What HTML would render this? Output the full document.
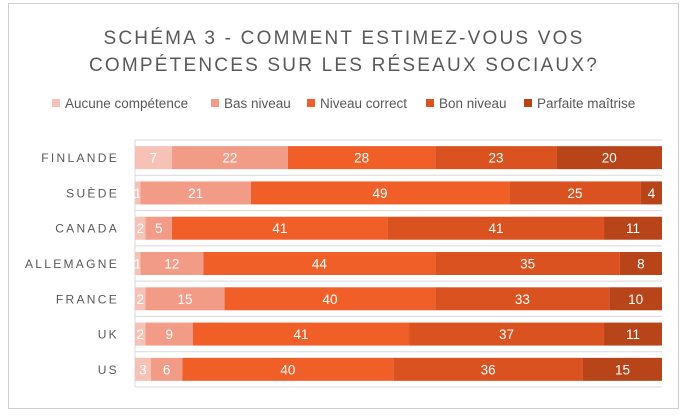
<!DOCTYPE html>
<html><head><meta charset="utf-8"><style>
body{margin:0;background:#fff;}
svg{display:block;font-family:"Liberation Sans",sans-serif;}
</style></head><body>
<svg id="c" width="688" height="419" viewBox="0 0 688 419">
<rect x="8.5" y="3.5" width="670" height="405" fill="#fff" stroke="#d0d0d0"/>
<text x="344" y="44" text-anchor="middle" font-size="19" fill="#595959" letter-spacing="2.2">SCHÉMA 3 - COMMENT ESTIMEZ-VOUS VOS</text>
<text x="344" y="71" text-anchor="middle" font-size="19" fill="#595959" letter-spacing="2.2">COMPÉTENCES SUR LES RÉSEAUX SOCIAUX?</text>
<g id="legend"></g>
<g id="grid"></g>
<g id="bars"></g>
<g id="labels"></g>
</svg>
<script>
const categories=["FINLANDE","SUÈDE","CANADA","ALLEMAGNE","FRANCE","UK","US"];
const seriesNames=["Aucune compétence","Bas niveau","Niveau correct","Bon niveau","Parfaite maîtrise"];
const aucune=[7,1,2,1,2,2,3];
const bas=[22,21,5,12,15,9,6];
const correct=[28,49,41,44,40,41,40];
const bon=[23,25,41,35,33,37,36];
const parfaite=[20,4,11,8,10,11,15];
const series=[aucune,bas,correct,bon,parfaite];
const colors=["#f7c2b6","#f29c88","#f05f28","#d9521f","#b8441a"];
const NS="http://www.w3.org/2000/svg";
const L=135,R=662,T=140,B=387;
const x=v=>L+(R-L)*v/100;
const band=(B-T)/categories.length;
const yc=i=>T+band*(i+0.5);
function mk(t,a,p){const e=document.createElementNS(NS,t);for(const k in a)e.setAttribute(k,a[k]);p.appendChild(e);return e;}
const grid=document.getElementById('grid'),bars=document.getElementById('bars'),labels=document.getElementById('labels'),legend=document.getElementById('legend');
for(let i=0;i<=categories.length;i++){
  const g=mk('line',{x1:L,x2:R,y1:T+band*i,y2:T+band*i,stroke:'#d9d9d9'},grid);
  
  
}
const vl=mk('line',{x1:L,x2:L,y1:T,y2:B,stroke:'#d9d9d9'},grid);


categories.forEach((c,i)=>{
  const t=mk('text',{x:119,y:yc(i)+4.5,'text-anchor':'end','font-size':12,fill:'#595959','letter-spacing':'2.3'},labels);
  t.textContent=c;
  
  
  let cum=0;
  series.forEach((s,j)=>{
    const v=s[i];
    const r=mk('rect',{x:x(cum),y:yc(i)-11.5,width:x(cum+v)-x(cum),height:23,fill:colors[j]},bars);
    
    
    const tx=mk('text',{x:(x(cum)+x(cum+v))/2,y:yc(i)+5,'text-anchor':'middle','font-size':13.5,fill:'#fff'},bars);
    tx.textContent=v;
    
    
    cum+=v;
  });
});
const lx=[52,211,307,426,524];
seriesNames.forEach((n,j)=>{
  const r=mk('rect',{x:lx[j],y:99,width:8,height:8,fill:colors[j]},legend);
  
  
  const t=mk('text',{x:lx[j]+13,y:108,'font-size':13.5,fill:'#595959'},legend);
  t.textContent=n;
  
  
});
</script>
</body></html>
